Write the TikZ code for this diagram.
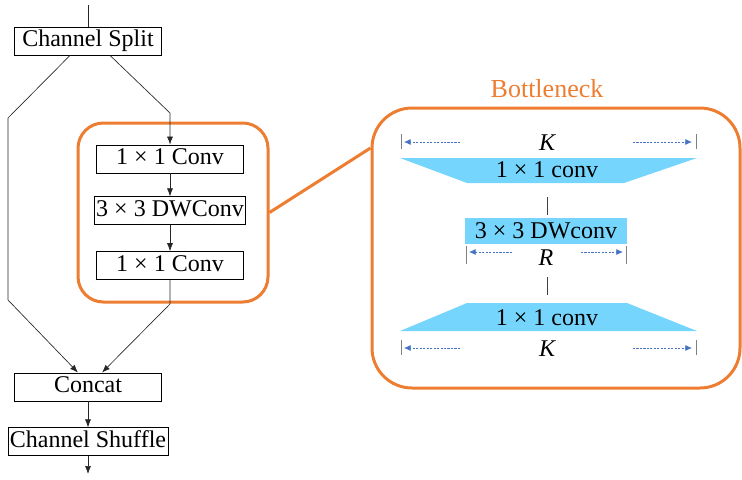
\documentclass[tikz,border=0pt]{standalone}
\usepackage{fontspec}
\setmainfont{Liberation Serif}
\usetikzlibrary{arrows.meta,positioning}
\definecolor{blockorange}{HTML}{ED7D31}
\definecolor{convblue}{HTML}{75D5FD}
\definecolor{dimblue}{HTML}{4472C4}
\tikzstyle{arrow} = [line width=0.5pt,black!85,->,>={Latex[length=6pt,width=4.5pt]}]
\tikzset{
box/.style= {rectangle, draw, line width=0.6pt, minimum width=110pt, minimum height=21pt, inner sep=1.5pt, text height=12pt, text depth=3.5pt},
group/.style= {rectangle, draw=blockorange, line width=2.25pt},
link/.style= {draw=blockorange, line width=2.25pt},
convfill/.style= {fill=convblue, draw=none},
joinline/.style= {draw=black!75, line width=0.6pt},
dimtick/.style= {draw=gray, line width=0.7pt},
dimarrow/.style= {draw=dimblue, line width=0.6pt, dash pattern=on 1.6pt off 1pt, ->, >={Latex[length=5pt,width=4.5pt]}},
dimlabel/.style= {font=\itshape\fontsize{18}{21}\selectfont, inner sep=0pt}
}

\begin{document}
\begin{tikzpicture}[x=0.75pt,y=-0.75pt,font=\fontsize{18}{21}\selectfont]
\useasboundingbox (0,0) rectangle (742,479);

% the two orange frames and the line between them
\node[group, rounded corners=19pt, minimum width=142.5pt, minimum height=134.25pt] (block) at (173,212.5) {};
\node[group, rounded corners=30pt, minimum width=276pt, minimum height=210pt] (bneck) at (556,248) {};
\node[text=blockorange, font=\fontsize{19.5}{22}\selectfont] (title) at (547,89) {Bottleneck};
\draw[link] (block.east) -- ([yshift=75pt]bneck.west);

% the shuffle unit on the left
\node[box] (split) at (88,41) {Channel Split};
\node[box] (c1) at (170,159) {1 × 1 Conv};
\node[box, below=17.25pt of c1] (c2) {3 × 3 DWConv};
\node[box, below=19.5pt of c2] (c3) {1 × 1 Conv};
\node[box] (concat) at (88,387) {Concat};
\node[box, below=19.5pt of concat] (shuffle) {Channel Shuffle};

\coordinate (in) at (88,5);
\coordinate (out) at (88,474);
\coordinate (lbend1) at (8,118);
\coordinate (lbend2) at (8,300);
\coordinate (rbend) at (170,113);

\draw[line width=0.5pt,black!85] (in) -- (split);
\draw[arrow] ([xshift=-13.5pt]split.south) -- (lbend1) -- (lbend2) -- ([xshift=-7.5pt]concat.north);
\draw[arrow] ([xshift=16.5pt]split.south) -- (rbend) -- (c1.north);
\draw[arrow] (c1) -- (c2);
\draw[arrow] (c2) -- (c3);
\draw[arrow] (c3.south) -- ++(0,24) -- ([xshift=10.5pt]concat.north);
\draw[arrow] (concat) -- (shuffle);
\draw[arrow] (shuffle) -- (out);

% the bottleneck on the right
\fill[convblue] (400,158) -- (697,158) -- (624,183) -- (467,183) -- cycle;
\node (tconv) at (547,170) {1 × 1 conv};
\node[convfill, minimum width=121.5pt, minimum height=19.5pt, inner sep=0pt] (dw) at (546,231) {3 × 3 DWconv};
\fill[convblue] (467,303) -- (627,303) -- (697,331) -- (400,331) -- cycle;
\node (bconv) at (547,318) {1 × 1 conv};

\draw[joinline] ([yshift=-20.25pt]tconv.center) -- ++(0,18);
\draw[joinline] ([yshift=17.25pt]bconv.center) -- ++(0,-18);

% width marks
\foreach \y/\name in {142/ktop, 348/kbot} {
  \node[dimlabel] (\name) at (547,\y+1) {K};
  \draw[dimtick] (401,\y-8) -- (401,\y+7);
  \draw[dimtick] (696,\y-8) -- (696,\y+7);
  \draw[dimarrow] (460,\y) -- (404,\y);
  \draw[dimarrow] (633,\y) -- (692,\y);
}
\node[dimlabel] (rmid) at (546,258) {R};
\draw[dimtick] (466,246) -- (466,264);
\draw[dimtick] (626,246) -- (626,264);
\draw[dimarrow] (512,252) -- (469,252);
\draw[dimarrow] (581,252) -- (623,252);

\end{tikzpicture}
\end{document}
